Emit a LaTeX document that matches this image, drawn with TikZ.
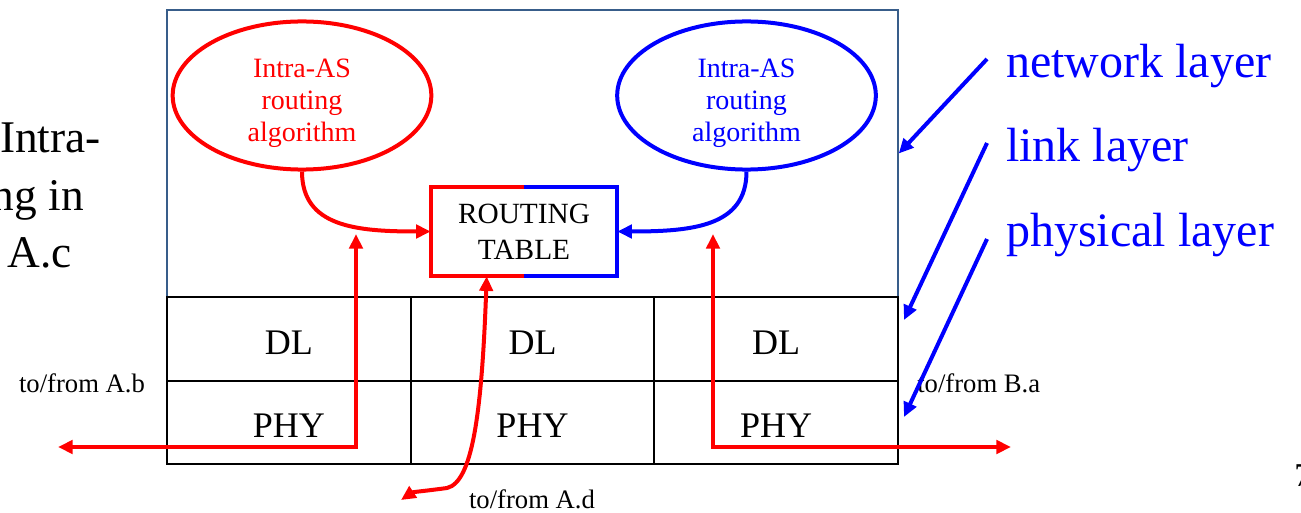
\documentclass[tikz,border=0pt]{standalone}
\usepackage{fontspec}
\setmainfont{Liberation Serif}
\usetikzlibrary{arrows.meta}
\usetikzlibrary{shapes.geometric,calc}
\definecolor{netcol}{RGB}{56,93,138}

\begin{document}
\begin{tikzpicture}[x=0.75pt,y=-0.75pt,
	redline/.style={draw=red,line width=3pt},
	blueline/.style={draw=blue,line width=3pt},
	tip/.style={-{Triangle[length=11pt,width=10pt]}},
	bothtips/.style={{Triangle[length=11pt,width=10pt]}-{Triangle[length=11pt,width=10pt]}},
	algo/.style={ellipse,line width=3pt,minimum width=194pt,minimum height=90pt,inner sep=0pt,align=center,font=\fontsize{21}{24}\selectfont},
	cell/.style={draw,line width=1.5pt,minimum width=182.75pt,minimum height=62.6pt,inner sep=0pt,font=\fontsize{27}{30}\selectfont},
	layerlabel/.style={text=blue,anchor=base west,inner sep=0pt,font=\fontsize{36}{40}\selectfont},
	port/.style={inner sep=0pt,font=\fontsize{20}{22}\selectfont},
	sidetext/.style={anchor=base east,inner sep=0pt,font=\fontsize{34}{38}\selectfont}]
	\useasboundingbox (0,0) rectangle (1301,513);
	
	% network layer box and the DL/PHY table under it
	\node[draw=netcol,line width=1.1pt,minimum width=548.25pt,minimum height=215.25pt,inner sep=0pt] (net) at (532.5,153.5) {};
	\foreach \col/\x in {1/288.8,2/532.5,3/776.2}{
		\node[cell] (dl\col) at (\x,339) {\rule{0pt}{23pt}DL};
		\node[cell] (phy\col) at (\x,422.5) {\rule{0pt}{23pt}PHY};
	}
	
	% routing algorithms and table
	\node[algo,draw=red,text=red] (ralgo) at (302,95.5) {\rule{0pt}{26pt}Intra-AS\\routing\\algorithm};
	\node[algo,draw=blue,text=blue] (balgo) at (746.5,95.5) {\rule{0pt}{26pt}Intra-AS\\routing\\algorithm};
	\node[minimum width=139.5pt,minimum height=66.75pt,inner sep=0pt,align=center,font=\fontsize{22}{27}\selectfont] (rtable) at (524,231.5) {ROUTING\\TABLE};
	\draw[redline,line join=miter] (rtable.north) -- (rtable.north west) -- (rtable.south west) -- (rtable.south);
	\draw[blueline,line join=miter] (rtable.north) -- (rtable.north east) -- (rtable.south east) -- (rtable.south);
	\draw[redline,tip] (ralgo.south) .. controls +(0,55) and +(-75,0) .. (rtable.west);
	\draw[blueline,tip] (balgo.south) .. controls +(0,55) and +(75,0) .. (rtable.east);
	
	% red paths to/from the ports
	\coordinate (ltop) at (356,234);
	\coordinate (lout) at (58,447);
	\coordinate (rtop) at (713,234);
	\coordinate (rout) at (1011,447);
	\coordinate (tbot) at ($(rtable.south west)!0.3!(rtable.south east)$);
	\coordinate (dbend) at (447,488);
	\coordinate (dout) at (401,500);
	\draw[redline,bothtips] (ltop) |- (lout);
	\draw[redline,bothtips] (rtop) |- (rout);
	\draw[redline,bothtips] (tbot) .. controls +(-5,140) and +(25,-6) .. (dbend) .. controls +(-22,3) and +(12,-8) .. (dout);
	
	\node[port] (portAb) at (82,383) {to/from A.b};
	\node[port,anchor=west] (portBa) at (917,383) {to/from B.a};
	\node[port] (portAd) at (532,499) {to/from A.d};
	
	% layer labels
	\node[layerlabel] (netlabel) at (1006,78) {network layer};
	\node[layerlabel] (linklabel) at (1006,162) {link layer};
	\node[layerlabel] (physlabel) at (1006,246) {physical layer};
	\coordinate (netfrom) at (987,59);
	\coordinate (linkfrom) at (987,143);
	\coordinate (physfrom) at (987,239);
	\coordinate (dlin) at (904,320);
	\coordinate (physin) at (904,417);
	\draw[blueline,tip] (netfrom) -- (net.east);
	\draw[blueline,tip] (linkfrom) -- (dlin);
	\draw[blueline,tip] (physfrom) -- (physin);
	
	% cut-off text at the edges
	\node[sidetext] (side1) at (101,153) {Intra-};
	\node[sidetext] (side2) at (84,210) {ng in};
	\node[sidetext] (side3) at (72,267) {A.c};
	\node[anchor=base west,inner sep=0pt,font=\fontsize{25}{30}\selectfont] (slideno) at (1294,486) {7};
\end{tikzpicture}
\end{document}
